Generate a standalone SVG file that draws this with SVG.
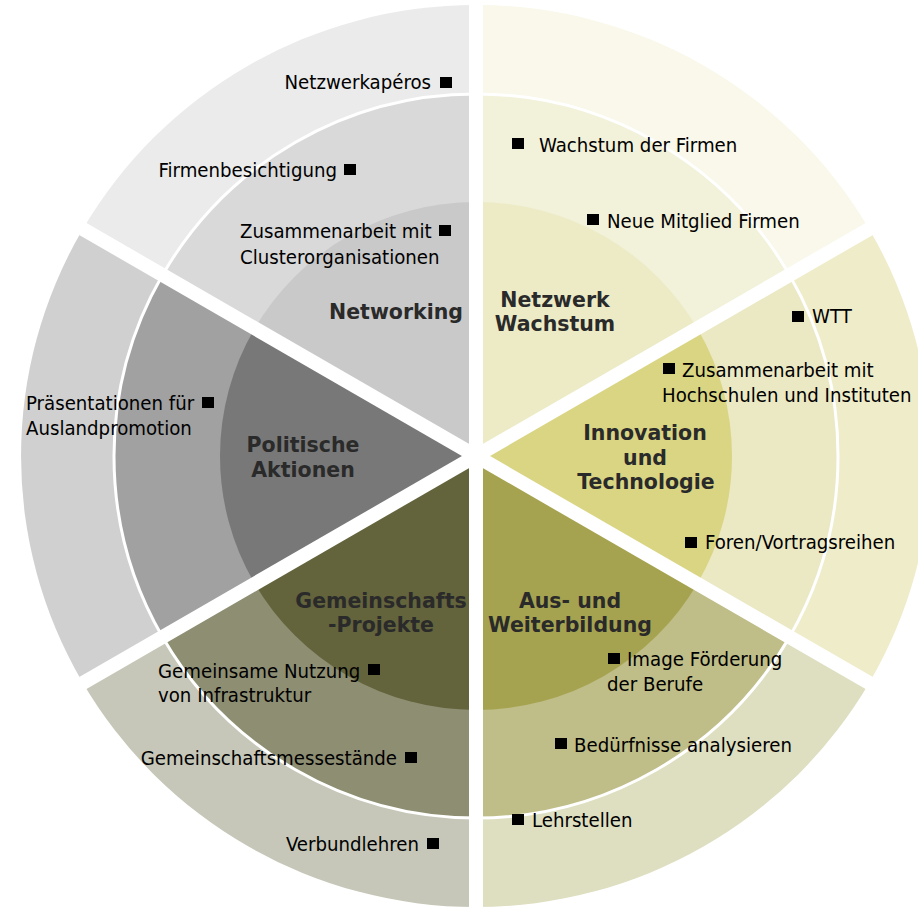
<svg xmlns="http://www.w3.org/2000/svg" xmlns:xlink="http://www.w3.org/1999/xlink" width="918" height="908" viewBox="0 0 918 908">
<style>
.t{font-family:"DejaVu Sans Condensed","DejaVu Sans",sans-serif;font-size:20.2px;fill:#000}
.e{text-anchor:end}
.h{font-family:"DejaVu Sans",sans-serif;font-weight:bold;font-size:20.5px;fill:#2a2a2a;text-anchor:middle}
.arc{fill:none;stroke:#fff;stroke-width:3}
.sep{stroke:#fff;stroke-width:14}
</style>
<defs><rect id="b" width="12" height="11" fill="#000"/></defs>
<rect width="918" height="908" fill="#fff"/>

<g id="netzwerk-wachstum">
<path d="M476,456 L476,5 A455,451 0 0 1 870,230.5 Z" fill="#f9f8ea"/>
<path d="M476,456 L476,94 A362,362 0 0 1 789.5,275 Z" fill="#f2f1d9"/>
<path d="M476,456 L476,202 A256,254 0 0 1 697.7,329 Z" fill="#ecebc6"/>
<path class="arc" d="M476,94 A362,362 0 0 1 789.5,275"/>
<text class="h" x="555" y="307">Netzwerk</text>
<text class="h" x="555" y="331">Wachstum</text>
<use xlink:href="#b" x="512" y="138"/><text class="t" x="539" y="152">Wachstum der Firmen</text>
<use xlink:href="#b" x="587" y="214"/><text class="t" x="607" y="228">Neue Mitglied Firmen</text>
</g>

<g id="innovation">
<path d="M476,456 L870,230.5 A455,451 0 0 1 870,681.5 Z" fill="#efecca"/>
<path d="M476,456 L789.5,275 A362,362 0 0 1 789.5,637 Z" fill="#ebe8c4"/>
<path d="M476,456 L697.7,329 A256,254 0 0 1 697.7,583 Z" fill="#d9d583"/>
<path class="arc" d="M789.5,275 A362,362 0 0 1 789.5,637"/>
<text class="h" x="645" y="440">Innovation</text>
<text class="h" x="645" y="465">und</text>
<text class="h" x="646" y="489">Technologie</text>
<use xlink:href="#b" x="792" y="311"/><text class="t" x="812" y="323">WTT</text>
<use xlink:href="#b" x="663" y="363"/><text class="t" x="682" y="377">Zusammenarbeit mit</text>
<text class="t" x="662" y="402">Hochschulen und Instituten</text>
<use xlink:href="#b" x="685" y="537"/><text class="t" x="705" y="549">Foren/Vortragsreihen</text>
</g>

<g id="aus-weiterbildung">
<path d="M476,456 L870,681.5 A455,451 0 0 1 476,907 Z" fill="#dedec0"/>
<path d="M476,456 L789.5,637 A362,362 0 0 1 476,818 Z" fill="#bfbd88"/>
<path d="M476,456 L697.7,583 A256,254 0 0 1 476,710 Z" fill="#a6a350"/>
<path class="arc" d="M789.5,637 A362,362 0 0 1 476,818"/>
<text class="h" x="570" y="608">Aus- und</text>
<text class="h" x="570" y="632">Weiterbildung</text>
<use xlink:href="#b" x="608" y="653"/><text class="t" x="627" y="666">Image Förderung</text>
<text class="t" x="607" y="691">der Berufe</text>
<use xlink:href="#b" x="555" y="738"/><text class="t" x="574" y="752">Bedürfnisse analysieren</text>
<use xlink:href="#b" x="512" y="814"/><text class="t" x="532" y="827">Lehrstellen</text>
</g>

<g id="gemeinschafts-projekte">
<path d="M476,456 L476,907 A455,451 0 0 1 82,681.5 Z" fill="#c6c7b8"/>
<path d="M476,456 L476,818 A362,362 0 0 1 162.5,637 Z" fill="#8e8e73"/>
<path d="M476,456 L476,710 A256,254 0 0 1 254.3,583 Z" fill="#63633c"/>
<path class="arc" d="M476,818 A362,362 0 0 1 162.5,637"/>
<text class="h" x="381" y="608">Gemeinschafts</text>
<text class="h" x="381" y="632">-Projekte</text>
<text class="t" x="158" y="678">Gemeinsame Nutzung</text><use xlink:href="#b" x="368" y="664"/>
<text class="t" x="158" y="702">von Infrastruktur</text>
<text class="t e" x="397" y="765">Gemeinschaftsmessestände</text><use xlink:href="#b" x="405" y="752"/>
<text class="t e" x="419" y="851">Verbundlehren</text><use xlink:href="#b" x="427" y="838"/>
</g>

<g id="politische-aktionen">
<path d="M476,456 L82,681.5 A455,451 0 0 1 82,230.5 Z" fill="#d0d0d0"/>
<path d="M476,456 L162.5,637 A362,362 0 0 1 162.5,275 Z" fill="#a1a1a1"/>
<path d="M476,456 L254.3,583 A256,254 0 0 1 254.3,329 Z" fill="#787878"/>
<path class="arc" d="M162.5,637 A362,362 0 0 1 162.5,275"/>
<text class="h" x="303" y="452">Politische</text>
<text class="h" x="303" y="477">Aktionen</text>
<text class="t" x="26" y="410">Präsentationen für</text><use xlink:href="#b" x="202" y="397"/>
<text class="t" x="26" y="435">Auslandpromotion</text>
</g>

<g id="networking">
<path d="M476,456 L82,230.5 A455,451 0 0 1 476,5 Z" fill="#ebebeb"/>
<path d="M476,456 L162.5,275 A362,362 0 0 1 476,94 Z" fill="#d9d9d9"/>
<path d="M476,456 L254.3,329 A256,254 0 0 1 476,202 Z" fill="#c9c9c9"/>
<path class="arc" d="M162.5,275 A362,362 0 0 1 476,94"/>
<text class="h" x="396" y="319">Networking</text>
<text class="t e" x="431" y="89">Netzwerkapéros</text><use xlink:href="#b" x="440" y="77"/>
<text class="t e" x="337" y="177">Firmenbesichtigung</text><use xlink:href="#b" x="344" y="164"/>
<text class="t" x="240" y="238">Zusammenarbeit mit</text><use xlink:href="#b" x="439" y="225"/>
<text class="t" x="240" y="264">Clusterorganisationen</text>
</g>

<g id="connectors">
<line class="sep" x1="476" y1="-10" x2="476" y2="920"/>
<line class="sep" x1="-43.6" y1="756" x2="995.6" y2="156"/>
<line class="sep" x1="-43.6" y1="156" x2="995.6" y2="756"/>
</g>
</svg>
